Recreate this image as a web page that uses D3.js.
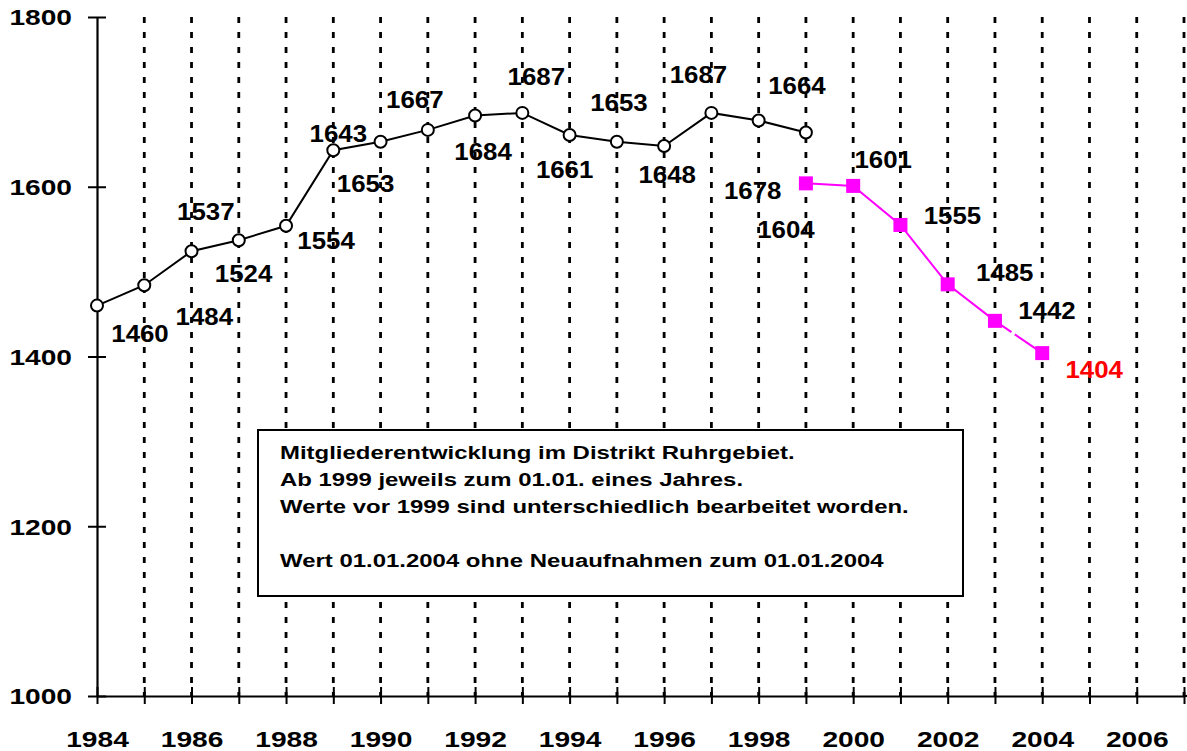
<!DOCTYPE html>
<html>
<head>
<meta charset="utf-8">
<script src="https://cdn.jsdelivr.net/npm/d3@7"></script>
<style>
  body { margin: 0; background: #fff; }
  svg { display: block; font-family: "Liberation Sans", Arial, sans-serif; font-weight: bold; }
  svg text { font-family: "Liberation Sans", Arial, sans-serif; font-weight: bold; }
</style>
</head>
<body>
<svg width="1187" height="751"></svg>
<script>
// data
var years = [1984, 1985, 1986, 1987, 1988, 1989, 1990, 1991, 1992, 1993, 1994, 1995, 1996, 1997, 1998, 1999];
var members = [1460, 1484, 1524, 1537, 1554, 1643, 1653, 1667, 1684, 1687, 1661, 1653, 1648, 1687, 1678, 1664];
var newYears = [1999, 2000, 2001, 2002, 2003, 2004];
var newMembers = [1604, 1601, 1555, 1485, 1442, 1404];
var yTicks = [1000, 1200, 1400, 1600, 1800];
var noteLines = [
  "Mitgliederentwicklung im Distrikt Ruhrgebiet.",
  "Ab 1999 jeweils zum 01.01. eines Jahres.",
  "Werte vor 1999 sind unterschiedlich bearbeitet worden.",
  "",
  "Wert 01.01.2004 ohne Neuaufnahmen zum 01.01.2004"
];

// label offsets (px, from the point to the label centre) - placed by hand like the original
var oldLabelOff = [[43, 28], [60, 31], [52, 22], [-33, -29], [40, 15], [5, -17], [-15, 42], [-13, -30],
  [8, 36], [14, -36], [-5, 35], [2, -39], [3, 29], [-13, -38], [-6, 70], [-9, -47]];
var newLabelOff = [[-20, 46], [30, -26], [52, -9], [57, -12], [52, -10], [52, 16]];

// the original text is drawn a bit wide
var axisStretch = 1.28;
var labelStretch = 1.1;
var noteStretch = 1.26;

var svg = d3.select("svg");

var x = d3.scaleLinear().domain([1984, 2007]).range([97, 1184]);
var y = d3.scaleLinear().domain([1000, 1800]).range([696, 17]);

// dotted year grid
svg.append("g")
  .selectAll("line")
  .data(d3.range(1985, 2008))
  .join("line")
  .attr("x1", d => x(d)).attr("x2", d => x(d))
  .attr("y1", y(1800)).attr("y2", y(1000))
  .attr("stroke", "#000")
  .attr("stroke-width", 2.8)
  .attr("stroke-dasharray", "6,9");

// axes
var yAxis = d3.axisLeft(y).tickValues(yTicks).tickSize(9).tickSizeOuter(0).tickFormat(d3.format("d"));
var yg = svg.append("g").attr("transform", "translate(" + x(1984) + ",0)").call(yAxis);
yg.selectAll(".tick line").attr("x1", 9).attr("stroke-width", 2);
yg.select(".domain").attr("stroke-width", 2.2);
yg.selectAll(".tick text")
  .attr("x", 0)
  .attr("dy", "0.36em")
  .attr("transform", "translate(-25,0) scale(" + axisStretch + ",1)")
  .style("font-size", "22px")
  .attr("fill", "#000");

var xAxis = d3.axisBottom(x).tickValues(d3.range(1984, 2008)).tickSize(8).tickSizeOuter(0)
  .tickFormat(d => (d % 2 === 0 && d < 2007) ? d : "");
var xg = svg.append("g").attr("transform", "translate(0," + y(1000) + ")").call(xAxis);
xg.selectAll(".tick line").attr("y1", -9).attr("stroke-width", 2);
xg.select(".domain").attr("stroke-width", 2.2);
xg.append("line").attr("x1", x(2007)).attr("x2", 1187).attr("stroke", "#000").attr("stroke-width", 2.2);
xg.selectAll(".tick text")
  .attr("y", 0)
  .attr("dy", 0)
  .attr("transform", "translate(0,51) scale(" + axisStretch + ",1)")
  .style("font-size", "22px")
  .attr("fill", "#000");

// note box
var box = svg.append("g");
box.append("rect")
  .attr("x", 258).attr("y", 430).attr("width", 705).attr("height", 166)
  .attr("fill", "#fff").attr("stroke", "#000").attr("stroke-width", 2);
box.selectAll("text")
  .data(noteLines)
  .join("text")
  .attr("transform", (d, i) => "translate(280," + (459 + i * 27) + ") scale(" + noteStretch + ",1)")
  .style("font-size", "19px")
  .text(d => d);

// old series (black, open circles)
var oldPts = years.map((d, i) => [d, members[i]]);
var line = d3.line().x(d => x(d[0])).y(d => y(d[1]));
svg.append("path")
  .datum(oldPts)
  .attr("d", line)
  .attr("fill", "none")
  .attr("stroke", "#000")
  .attr("stroke-width", 2);
svg.append("g")
  .selectAll("circle")
  .data(oldPts)
  .join("circle")
  .attr("cx", d => x(d[0])).attr("cy", d => y(d[1]))
  .attr("r", 6)
  .attr("fill", "#fff")
  .attr("stroke", "#000")
  .attr("stroke-width", 2);

// new series (magenta squares)
var newPts = newYears.map((d, i) => [d, newMembers[i]]);
svg.append("path")
  .datum(newPts.slice(0, newPts.length - 1))
  .attr("d", line)
  .attr("fill", "none")
  .attr("stroke", "#ff00ff")
  .attr("stroke-width", 2);
// last step (without new admissions) has a small break
svg.append("path")
  .datum(newPts.slice(newPts.length - 2))
  .attr("d", line)
  .attr("fill", "none")
  .attr("stroke", "#ff00ff")
  .attr("stroke-width", 2)
  .attr("stroke-dasharray", "20,4,200");
svg.append("g")
  .selectAll("rect")
  .data(newPts)
  .join("rect")
  .attr("x", d => x(d[0]) - 7).attr("y", d => y(d[1]) - 7)
  .attr("width", 14).attr("height", 14)
  .attr("fill", "#ff00ff");

// value labels
function addLabels(pts, offs, colorFn) {
  svg.append("g")
    .selectAll("text")
    .data(pts)
    .join("text")
    .attr("transform", (d, i) => "translate(" + (x(d[0]) + offs[i][0]) + "," + (y(d[1]) + offs[i][1]) + ") scale(" + labelStretch + ",1)")
    .attr("dy", "0.36em")
    .attr("text-anchor", "middle")
    .attr("fill", colorFn)
    .style("font-size", "23.5px")
    .text(d => d[1]);
}
addLabels(oldPts, oldLabelOff, () => "#000");
addLabels(newPts, newLabelOff, (d, i) => i === newPts.length - 1 ? "#ff0000" : "#000");
</script>
</body>
</html>
